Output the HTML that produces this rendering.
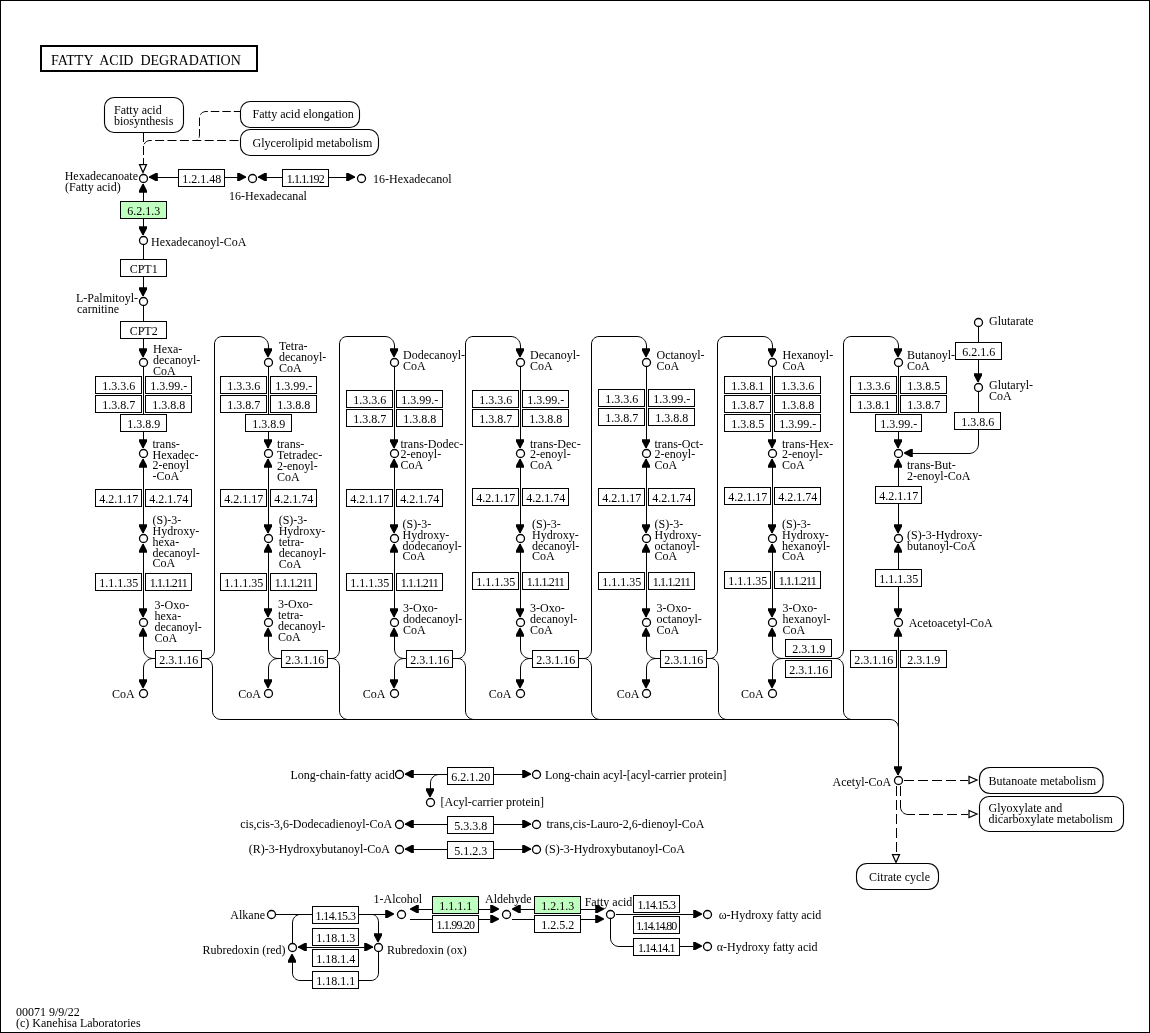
<!DOCTYPE html>
<html lang="en">
<head>
<meta charset="utf-8">
<title>Fatty acid degradation</title>
<style>
html,body{margin:0;padding:0;background:#fff;}
body{width:1150px;height:1033px;overflow:hidden;}
svg{display:block;will-change:transform;}
svg text{font-family:"Liberation Serif","DejaVu Serif",serif;font-size:12px;fill:#000;}
#g rect,#g path,#g circle,#g polygon{stroke:#000;stroke-width:1;}
#g path{fill:none;}
#g circle.c{fill:#fff;stroke-width:1.3;shape-rendering:geometricPrecision;}
#g polygon.a{fill:#000;stroke:none;shape-rendering:geometricPrecision;}
#g rect.r{fill:#fff;stroke-width:1.1;shape-rendering:geometricPrecision;}
#g rect.g{fill:#fff;stroke:none;}
#g polygon.oa{fill:#fff;stroke-width:1.25;shape-rendering:geometricPrecision;}
#g .d{stroke-dasharray:9 3.5;}
#g .d3{stroke-dasharray:8.5 3;stroke-dashoffset:2.3;}
#g .d4{stroke-dasharray:9 3.4;stroke-dashoffset:-1.5;}
#g .d2{stroke-dasharray:10 4;}
</style>
</head>
<body>
<svg width="1150" height="1033" viewBox="0 0 1150 1033">
<rect x="0" y="0" width="1150" height="1033" fill="#fff"/>
<g id="g" shape-rendering="crispEdges">
<path class="d" d="M143.5,133 V165"/>
<path class="d3" style="shape-rendering:geometricPrecision" d="M240,111.5 H206 C202.41,111.50 199.50,114.41 199.5,118 V135 C199.50,138.04 197.93,140.50 196,140.5"/>
<path class="d4" style="shape-rendering:geometricPrecision" d="M240,140.5 H150 C146.41,140.50 143.50,143.41 143.5,147 V150"/>
<path d="M147,177.5 H178"/>
<path d="M225,177.5 H248"/>
<path d="M256,177.5 H282"/>
<path d="M329,177.5 H357"/>
<path d="M143.5,182 V236"/>
<path d="M143.5,245 V297"/>
<path d="M143.5,306 V357"/>
<path d="M143.5,367 V449"/>
<path d="M143.5,458 V534"/>
<path d="M143.5,543 V618"/>
<path style="shape-rendering:geometricPrecision" d="M143.5,636 V649 C143.50,654.25 147.75,658.50 153,658.5 H155"/>
<path style="shape-rendering:geometricPrecision" d="M155,658.5 H153 C147.75,658.50 143.50,662.75 143.5,668 V680"/>
<path style="shape-rendering:geometricPrecision" d="M202,658.5 H207 C211.14,658.50 214.50,654.69 214.5,650 V344 C214.50,339.86 217.86,336.50 222,336.5 H259 C264.25,336.50 268.50,340.75 268.5,346 V350"/>
<path style="shape-rendering:geometricPrecision" d="M202,658.5 H205 C209.14,658.50 212.50,662.31 212.5,667 V711 C212.50,715.69 216.31,719.50 221,719.5"/>
<path d="M268.5,367 V449"/>
<path d="M268.5,458 V534"/>
<path d="M268.5,543 V618"/>
<path style="shape-rendering:geometricPrecision" d="M268.5,636 V649 C268.50,654.25 272.75,658.50 278,658.5 H281"/>
<path style="shape-rendering:geometricPrecision" d="M281,658.5 H278 C272.75,658.50 268.50,662.75 268.5,668 V680"/>
<path style="shape-rendering:geometricPrecision" d="M328,658.5 H332 C336.14,658.50 339.50,654.69 339.5,650 V344 C339.50,339.86 342.86,336.50 347,336.5 H385 C390.25,336.50 394.50,340.75 394.5,346 V350"/>
<path style="shape-rendering:geometricPrecision" d="M328,658.5 H332 C336.14,658.50 339.50,662.31 339.5,667 V711 C339.50,715.69 343.31,719.50 348,719.5"/>
<path d="M394.5,367 V449"/>
<path d="M394.5,458 V534"/>
<path d="M394.5,543 V618"/>
<path style="shape-rendering:geometricPrecision" d="M394.5,636 V649 C394.50,654.25 398.75,658.50 404,658.5 H406"/>
<path style="shape-rendering:geometricPrecision" d="M406,658.5 H404 C398.75,658.50 394.50,662.75 394.5,668 V680"/>
<path style="shape-rendering:geometricPrecision" d="M453,658.5 H458 C462.14,658.50 465.50,654.69 465.5,650 V344 C465.50,339.86 468.86,336.50 473,336.5 H511 C516.25,336.50 520.50,340.75 520.5,346 V350"/>
<path style="shape-rendering:geometricPrecision" d="M453,658.5 H458 C462.14,658.50 465.50,662.31 465.5,667 V711 C465.50,715.69 469.31,719.50 474,719.5"/>
<path d="M520.5,367 V449"/>
<path d="M520.5,458 V534"/>
<path d="M520.5,543 V618"/>
<path style="shape-rendering:geometricPrecision" d="M520.5,636 V649 C520.50,654.25 524.75,658.50 530,658.5 H532"/>
<path style="shape-rendering:geometricPrecision" d="M532,658.5 H530 C524.75,658.50 520.50,662.75 520.5,668 V680"/>
<path style="shape-rendering:geometricPrecision" d="M579,658.5 H584 C588.14,658.50 591.50,654.69 591.5,650 V344 C591.50,339.86 594.86,336.50 599,336.5 H637 C642.25,336.50 646.50,340.75 646.5,346 V350"/>
<path style="shape-rendering:geometricPrecision" d="M579,658.5 H584 C588.14,658.50 591.50,662.31 591.5,667 V711 C591.50,715.69 595.31,719.50 600,719.5"/>
<path d="M646.5,367 V449"/>
<path d="M646.5,458 V534"/>
<path d="M646.5,543 V618"/>
<path style="shape-rendering:geometricPrecision" d="M646.5,636 V649 C646.50,654.25 650.75,658.50 656,658.5 H660"/>
<path style="shape-rendering:geometricPrecision" d="M660,658.5 H656 C650.75,658.50 646.50,662.75 646.5,668 V680"/>
<path style="shape-rendering:geometricPrecision" d="M707,658.5 H710 C714.14,658.50 717.50,654.69 717.5,650 V344 C717.50,339.86 720.86,336.50 725,336.5 H763 C768.25,336.50 772.50,340.75 772.5,346 V350"/>
<path style="shape-rendering:geometricPrecision" d="M707,658.5 H711 C715.14,658.50 718.50,662.31 718.5,667 V711 C718.50,715.69 722.31,719.50 727,719.5"/>
<path d="M772.5,367 V449"/>
<path d="M772.5,458 V534"/>
<path d="M772.5,543 V618"/>
<path style="shape-rendering:geometricPrecision" d="M772.5,636 V649 C772.50,654.25 776.75,658.50 782,658.5 H837"/>
<path style="shape-rendering:geometricPrecision" d="M782,658.5 C776.75,658.50 772.50,662.75 772.5,668 V680"/>
<path style="shape-rendering:geometricPrecision" d="M837,658.5 H836 C840.14,658.50 843.50,654.69 843.5,650 V344 C843.50,339.86 846.86,336.50 851,336.5 H889 C894.25,336.50 898.50,340.75 898.5,346 V350"/>
<path style="shape-rendering:geometricPrecision" d="M837,658.5 H836 C840.14,658.50 843.50,662.31 843.5,667 V711 C843.50,715.69 847.31,719.50 852,719.5"/>
<path style="shape-rendering:geometricPrecision" d="M221,719.5 H890 C894.69,719.50 898.50,723.31 898.5,728"/>
<path d="M898.5,367 V449"/>
<path d="M898.5,458 V534"/>
<path d="M898.5,543 V618"/>
<path d="M898.5,627 V776"/>
<path d="M978.5,327 V383"/>
<path style="shape-rendering:geometricPrecision" d="M978.5,392 V444 C978.50,449.25 974.25,453.50 969,453.5 H905"/>
<path class="d2" d="M904,780.5 H968"/>
<path class="d2" d="M896.5,786 V854"/>
<path d="M900.5,786 V796"/>
<path style="shape-rendering:geometricPrecision" d="M900.5,800 V807 C900.50,811.14 903.86,814.50 908,814.5 H915"/>
<path class="d2" d="M919,814.5 H968"/>
<path d="M404,774.5 H447"/>
<path d="M494,774.5 H531"/>
<path d="M404,824.5 H447"/>
<path d="M494,824.5 H531"/>
<path d="M404,849.5 H447"/>
<path d="M494,849.5 H531"/>
<path style="shape-rendering:geometricPrecision" d="M447,774.5 H439 C434.31,774.50 430.50,778.31 430.5,783 V790"/>
<path d="M276,914.5 H312"/>
<path d="M359,914.5 H388"/>
<path style="shape-rendering:geometricPrecision" d="M300,914.5 C295.86,914.50 292.50,918.31 292.5,923 V943"/>
<path style="shape-rendering:geometricPrecision" d="M359,914.5 H372 C375.59,914.50 378.50,917.86 378.5,922 V935"/>
<path d="M298,947.5 H373"/>
<path style="shape-rendering:geometricPrecision" d="M378.5,952 V973 C378.50,977.14 375.14,980.50 371,980.5 H359"/>
<path style="shape-rendering:geometricPrecision" d="M312,980.5 H300 C295.86,980.50 292.50,977.14 292.5,973 V960"/>
<path d="M411,909.5 H432"/>
<path d="M479,909.5 H490"/>
<path d="M410,919.5 H432"/>
<path d="M479,919.5 H490"/>
<path d="M513,909.5 H534"/>
<path d="M581,909.5 H596"/>
<path d="M512,919.5 H534"/>
<path d="M581,919.5 H596"/>
<path d="M616,914.5 H693"/>
<path style="shape-rendering:geometricPrecision" d="M610.5,919 V938 C610.50,942.69 614.31,946.50 619,946.5 H633"/>
<path d="M680,946.5 H693"/>
<polygon class="oa" points="143,172.5 139.5,164.5 146.5,164.5"/>
<rect class="g" x="147.5" y="177" width="1.5" height="1"/>
<polygon class="a" points="149,176.4 149,177.6 155.6,181 157.8,181 157.8,173 155.6,173"/>
<rect class="g" x="246" y="177" width="1.5" height="1"/>
<polygon class="a" points="246,176.4 246,177.6 239.4,181 237.2,181 237.2,173 239.4,173"/>
<rect class="g" x="256.5" y="177" width="1.5" height="1"/>
<polygon class="a" points="258,176.4 258,177.6 264.6,181 266.8,181 266.8,173 264.6,173"/>
<rect class="g" x="355" y="177" width="1.5" height="1"/>
<polygon class="a" points="355,176.4 355,177.6 348.4,181 346.2,181 346.2,173 348.4,173"/>
<rect class="g" x="143" y="182.5" width="1" height="1.5"/>
<polygon class="a" points="142.4,184 143.6,184 147,190.6 147,192.8 139,192.8 139,190.6"/>
<rect class="g" x="143" y="235" width="1" height="1.5"/>
<polygon class="a" points="142.4,235 143.6,235 147,228.4 147,226.2 139,226.2 139,228.4"/>
<rect class="g" x="143" y="296" width="1" height="1.5"/>
<polygon class="a" points="142.4,296 143.6,296 147,289.4 147,287.2 139,287.2 139,289.4"/>
<rect class="g" x="143" y="357" width="1" height="1.5"/>
<polygon class="a" points="142.4,357 143.6,357 147,350.4 147,348.2 139,348.2 139,350.4"/>
<rect class="g" x="143" y="448" width="1" height="1.5"/>
<polygon class="a" points="142.4,448 143.6,448 147,441.4 147,439.2 139,439.2 139,441.4"/>
<rect class="g" x="143" y="457.5" width="1" height="1.5"/>
<polygon class="a" points="142.4,459 143.6,459 147,465.6 147,467.8 139,467.8 139,465.6"/>
<rect class="g" x="143" y="533" width="1" height="1.5"/>
<polygon class="a" points="142.4,533 143.6,533 147,526.4 147,524.2 139,524.2 139,526.4"/>
<rect class="g" x="143" y="542.5" width="1" height="1.5"/>
<polygon class="a" points="142.4,544 143.6,544 147,550.6 147,552.8 139,552.8 139,550.6"/>
<rect class="g" x="143" y="617" width="1" height="1.5"/>
<polygon class="a" points="142.4,617 143.6,617 147,610.4 147,608.2 139,608.2 139,610.4"/>
<rect class="g" x="143" y="626.5" width="1" height="1.5"/>
<polygon class="a" points="142.4,628 143.6,628 147,634.6 147,636.8 139,636.8 139,634.6"/>
<rect class="g" x="143" y="688" width="1" height="1.5"/>
<polygon class="a" points="142.4,688 143.6,688 147,681.4 147,679.2 139,679.2 139,681.4"/>
<rect class="g" x="268" y="357" width="1" height="1.5"/>
<polygon class="a" points="267.4,357 268.6,357 272,350.4 272,348.2 264,348.2 264,350.4"/>
<rect class="g" x="268" y="448" width="1" height="1.5"/>
<polygon class="a" points="267.4,448 268.6,448 272,441.4 272,439.2 264,439.2 264,441.4"/>
<rect class="g" x="268" y="457.5" width="1" height="1.5"/>
<polygon class="a" points="267.4,459 268.6,459 272,465.6 272,467.8 264,467.8 264,465.6"/>
<rect class="g" x="268" y="533" width="1" height="1.5"/>
<polygon class="a" points="267.4,533 268.6,533 272,526.4 272,524.2 264,524.2 264,526.4"/>
<rect class="g" x="268" y="542.5" width="1" height="1.5"/>
<polygon class="a" points="267.4,544 268.6,544 272,550.6 272,552.8 264,552.8 264,550.6"/>
<rect class="g" x="268" y="617" width="1" height="1.5"/>
<polygon class="a" points="267.4,617 268.6,617 272,610.4 272,608.2 264,608.2 264,610.4"/>
<rect class="g" x="268" y="626.5" width="1" height="1.5"/>
<polygon class="a" points="267.4,628 268.6,628 272,634.6 272,636.8 264,636.8 264,634.6"/>
<rect class="g" x="268" y="688" width="1" height="1.5"/>
<polygon class="a" points="267.4,688 268.6,688 272,681.4 272,679.2 264,679.2 264,681.4"/>
<rect class="g" x="394" y="357" width="1" height="1.5"/>
<polygon class="a" points="393.4,357 394.6,357 398,350.4 398,348.2 390,348.2 390,350.4"/>
<rect class="g" x="394" y="448" width="1" height="1.5"/>
<polygon class="a" points="393.4,448 394.6,448 398,441.4 398,439.2 390,439.2 390,441.4"/>
<rect class="g" x="394" y="457.5" width="1" height="1.5"/>
<polygon class="a" points="393.4,459 394.6,459 398,465.6 398,467.8 390,467.8 390,465.6"/>
<rect class="g" x="394" y="533" width="1" height="1.5"/>
<polygon class="a" points="393.4,533 394.6,533 398,526.4 398,524.2 390,524.2 390,526.4"/>
<rect class="g" x="394" y="542.5" width="1" height="1.5"/>
<polygon class="a" points="393.4,544 394.6,544 398,550.6 398,552.8 390,552.8 390,550.6"/>
<rect class="g" x="394" y="617" width="1" height="1.5"/>
<polygon class="a" points="393.4,617 394.6,617 398,610.4 398,608.2 390,608.2 390,610.4"/>
<rect class="g" x="394" y="626.5" width="1" height="1.5"/>
<polygon class="a" points="393.4,628 394.6,628 398,634.6 398,636.8 390,636.8 390,634.6"/>
<rect class="g" x="394" y="688" width="1" height="1.5"/>
<polygon class="a" points="393.4,688 394.6,688 398,681.4 398,679.2 390,679.2 390,681.4"/>
<rect class="g" x="520" y="357" width="1" height="1.5"/>
<polygon class="a" points="519.4,357 520.6,357 524,350.4 524,348.2 516,348.2 516,350.4"/>
<rect class="g" x="520" y="448" width="1" height="1.5"/>
<polygon class="a" points="519.4,448 520.6,448 524,441.4 524,439.2 516,439.2 516,441.4"/>
<rect class="g" x="520" y="457.5" width="1" height="1.5"/>
<polygon class="a" points="519.4,459 520.6,459 524,465.6 524,467.8 516,467.8 516,465.6"/>
<rect class="g" x="520" y="533" width="1" height="1.5"/>
<polygon class="a" points="519.4,533 520.6,533 524,526.4 524,524.2 516,524.2 516,526.4"/>
<rect class="g" x="520" y="542.5" width="1" height="1.5"/>
<polygon class="a" points="519.4,544 520.6,544 524,550.6 524,552.8 516,552.8 516,550.6"/>
<rect class="g" x="520" y="617" width="1" height="1.5"/>
<polygon class="a" points="519.4,617 520.6,617 524,610.4 524,608.2 516,608.2 516,610.4"/>
<rect class="g" x="520" y="626.5" width="1" height="1.5"/>
<polygon class="a" points="519.4,628 520.6,628 524,634.6 524,636.8 516,636.8 516,634.6"/>
<rect class="g" x="520" y="688" width="1" height="1.5"/>
<polygon class="a" points="519.4,688 520.6,688 524,681.4 524,679.2 516,679.2 516,681.4"/>
<rect class="g" x="646" y="357" width="1" height="1.5"/>
<polygon class="a" points="645.4,357 646.6,357 650,350.4 650,348.2 642,348.2 642,350.4"/>
<rect class="g" x="646" y="448" width="1" height="1.5"/>
<polygon class="a" points="645.4,448 646.6,448 650,441.4 650,439.2 642,439.2 642,441.4"/>
<rect class="g" x="646" y="457.5" width="1" height="1.5"/>
<polygon class="a" points="645.4,459 646.6,459 650,465.6 650,467.8 642,467.8 642,465.6"/>
<rect class="g" x="646" y="533" width="1" height="1.5"/>
<polygon class="a" points="645.4,533 646.6,533 650,526.4 650,524.2 642,524.2 642,526.4"/>
<rect class="g" x="646" y="542.5" width="1" height="1.5"/>
<polygon class="a" points="645.4,544 646.6,544 650,550.6 650,552.8 642,552.8 642,550.6"/>
<rect class="g" x="646" y="617" width="1" height="1.5"/>
<polygon class="a" points="645.4,617 646.6,617 650,610.4 650,608.2 642,608.2 642,610.4"/>
<rect class="g" x="646" y="626.5" width="1" height="1.5"/>
<polygon class="a" points="645.4,628 646.6,628 650,634.6 650,636.8 642,636.8 642,634.6"/>
<rect class="g" x="646" y="688" width="1" height="1.5"/>
<polygon class="a" points="645.4,688 646.6,688 650,681.4 650,679.2 642,679.2 642,681.4"/>
<rect class="g" x="772" y="357" width="1" height="1.5"/>
<polygon class="a" points="771.4,357 772.6,357 776,350.4 776,348.2 768,348.2 768,350.4"/>
<rect class="g" x="772" y="448" width="1" height="1.5"/>
<polygon class="a" points="771.4,448 772.6,448 776,441.4 776,439.2 768,439.2 768,441.4"/>
<rect class="g" x="772" y="457.5" width="1" height="1.5"/>
<polygon class="a" points="771.4,459 772.6,459 776,465.6 776,467.8 768,467.8 768,465.6"/>
<rect class="g" x="772" y="533" width="1" height="1.5"/>
<polygon class="a" points="771.4,533 772.6,533 776,526.4 776,524.2 768,524.2 768,526.4"/>
<rect class="g" x="772" y="542.5" width="1" height="1.5"/>
<polygon class="a" points="771.4,544 772.6,544 776,550.6 776,552.8 768,552.8 768,550.6"/>
<rect class="g" x="772" y="617" width="1" height="1.5"/>
<polygon class="a" points="771.4,617 772.6,617 776,610.4 776,608.2 768,608.2 768,610.4"/>
<rect class="g" x="772" y="626.5" width="1" height="1.5"/>
<polygon class="a" points="771.4,628 772.6,628 776,634.6 776,636.8 768,636.8 768,634.6"/>
<rect class="g" x="772" y="688" width="1" height="1.5"/>
<polygon class="a" points="771.4,688 772.6,688 776,681.4 776,679.2 768,679.2 768,681.4"/>
<rect class="g" x="898" y="357" width="1" height="1.5"/>
<polygon class="a" points="897.4,357 898.6,357 902,350.4 902,348.2 894,348.2 894,350.4"/>
<rect class="g" x="898" y="448" width="1" height="1.5"/>
<polygon class="a" points="897.4,448 898.6,448 902,441.4 902,439.2 894,439.2 894,441.4"/>
<rect class="g" x="898" y="457.5" width="1" height="1.5"/>
<polygon class="a" points="897.4,459 898.6,459 902,465.6 902,467.8 894,467.8 894,465.6"/>
<rect class="g" x="898" y="533" width="1" height="1.5"/>
<polygon class="a" points="897.4,533 898.6,533 902,526.4 902,524.2 894,524.2 894,526.4"/>
<rect class="g" x="898" y="542.5" width="1" height="1.5"/>
<polygon class="a" points="897.4,544 898.6,544 902,550.6 902,552.8 894,552.8 894,550.6"/>
<rect class="g" x="898" y="617" width="1" height="1.5"/>
<polygon class="a" points="897.4,617 898.6,617 902,610.4 902,608.2 894,608.2 894,610.4"/>
<rect class="g" x="898" y="626.5" width="1" height="1.5"/>
<polygon class="a" points="897.4,628 898.6,628 902,634.6 902,636.8 894,636.8 894,634.6"/>
<rect class="g" x="898" y="775" width="1" height="1.5"/>
<polygon class="a" points="897.4,775 898.6,775 902,768.4 902,766.2 894,766.2 894,768.4"/>
<rect class="g" x="978" y="382" width="1" height="1.5"/>
<polygon class="a" points="977.4,382 978.6,382 982,375.4 982,373.2 974,373.2 974,375.4"/>
<rect class="g" x="902.5" y="453" width="1.5" height="1"/>
<polygon class="a" points="904,452.4 904,453.6 910.6,457 912.8,457 912.8,449 910.6,449"/>
<polygon class="oa" points="977,780 969,776.5 969,783.5"/>
<polygon class="oa" points="896,862.5 892.5,854.5 899.5,854.5"/>
<polygon class="oa" points="977,814 969,810.5 969,817.5"/>
<rect class="g" x="403.5" y="774" width="1.5" height="1"/>
<polygon class="a" points="405,773.4 405,774.6 411.6,778 413.8,778 413.8,770 411.6,770"/>
<rect class="g" x="531" y="774" width="1.5" height="1"/>
<polygon class="a" points="531,773.4 531,774.6 524.4,778 522.2,778 522.2,770 524.4,770"/>
<rect class="g" x="403.5" y="824" width="1.5" height="1"/>
<polygon class="a" points="405,823.4 405,824.6 411.6,828 413.8,828 413.8,820 411.6,820"/>
<rect class="g" x="531" y="824" width="1.5" height="1"/>
<polygon class="a" points="531,823.4 531,824.6 524.4,828 522.2,828 522.2,820 524.4,820"/>
<rect class="g" x="403.5" y="849" width="1.5" height="1"/>
<polygon class="a" points="405,848.4 405,849.6 411.6,853 413.8,853 413.8,845 411.6,845"/>
<rect class="g" x="531" y="849" width="1.5" height="1"/>
<polygon class="a" points="531,848.4 531,849.6 524.4,853 522.2,853 522.2,845 524.4,845"/>
<rect class="g" x="430" y="797" width="1" height="1.5"/>
<polygon class="a" points="429.4,797 430.6,797 434,790.4 434,788.2 426,788.2 426,790.4"/>
<rect class="g" x="394" y="914" width="1.5" height="1"/>
<polygon class="a" points="394,913.4 394,914.6 387.4,918 385.2,918 385.2,910 387.4,910"/>
<rect class="g" x="378" y="942" width="1" height="1.5"/>
<polygon class="a" points="377.4,942 378.6,942 382,935.4 382,933.2 374,933.2 374,935.4"/>
<rect class="g" x="296.5" y="947" width="1.5" height="1"/>
<polygon class="a" points="298,946.4 298,947.6 304.6,951 306.8,951 306.8,943 304.6,943"/>
<rect class="g" x="373" y="947" width="1.5" height="1"/>
<polygon class="a" points="373,946.4 373,947.6 366.4,951 364.2,951 364.2,943 366.4,943"/>
<rect class="g" x="292" y="952.5" width="1" height="1.5"/>
<polygon class="a" points="291.4,954 292.6,954 296,960.6 296,962.8 288,962.8 288,960.6"/>
<rect class="g" x="408.5" y="909" width="1.5" height="1"/>
<polygon class="a" points="410,908.4 410,909.6 416.6,913 418.8,913 418.8,905 416.6,905"/>
<rect class="g" x="499" y="909" width="1.5" height="1"/>
<polygon class="a" points="499,908.4 499,909.6 492.4,913 490.2,913 490.2,905 492.4,905"/>
<rect class="g" x="499" y="919" width="1.5" height="1"/>
<polygon class="a" points="499,918.4 499,919.6 492.4,923 490.2,923 490.2,915 492.4,915"/>
<rect class="g" x="510.5" y="909" width="1.5" height="1"/>
<polygon class="a" points="512,908.4 512,909.6 518.6,913 520.8,913 520.8,905 518.6,905"/>
<rect class="g" x="604" y="909" width="1.5" height="1"/>
<polygon class="a" points="604,908.4 604,909.6 597.4,913 595.2,913 595.2,905 597.4,905"/>
<rect class="g" x="604" y="919" width="1.5" height="1"/>
<polygon class="a" points="604,918.4 604,919.6 597.4,923 595.2,923 595.2,915 597.4,915"/>
<rect class="g" x="702" y="914" width="1.5" height="1"/>
<polygon class="a" points="702,913.4 702,914.6 695.4,918 693.2,918 693.2,910 695.4,910"/>
<rect class="g" x="702" y="946" width="1.5" height="1"/>
<polygon class="a" points="702,945.4 702,946.6 695.4,950 693.2,950 693.2,942 695.4,942"/>
<rect x="0.5" y="0.5" width="1149" height="1032" fill="none"/>
<rect x="41" y="46" width="216" height="25" fill="#fff" style="stroke-width:2"/>
<rect class="r" x="104.5" y="97.5" width="79" height="35" rx="9.5" ry="9.5"/>
<rect class="r" x="240.5" y="101.5" width="119" height="26" rx="9.5" ry="9.5"/>
<rect class="r" x="240.5" y="129.5" width="138" height="26" rx="9.5" ry="9.5"/>
<rect x="178.5" y="169.5" width="46" height="17" fill="#fff"/>
<rect x="282.5" y="169.5" width="46" height="17" fill="#fff"/>
<rect x="120.5" y="201.5" width="46" height="17" fill="#bfffbf"/>
<rect x="120.5" y="259.5" width="46" height="17" fill="#fff"/>
<rect x="120.5" y="321.5" width="46" height="17" fill="#fff"/>
<rect x="95.5" y="376.5" width="46" height="17" fill="#fff"/>
<rect x="145.5" y="376.5" width="46" height="17" fill="#fff"/>
<rect x="95.5" y="395.5" width="46" height="17" fill="#fff"/>
<rect x="145.5" y="395.5" width="46" height="17" fill="#fff"/>
<rect x="120.5" y="414.5" width="46" height="17" fill="#fff"/>
<rect x="95.5" y="489.5" width="46" height="17" fill="#fff"/>
<rect x="145.5" y="489.5" width="46" height="17" fill="#fff"/>
<rect x="95.5" y="573.5" width="46" height="17" fill="#fff"/>
<rect x="145.5" y="573.5" width="46" height="17" fill="#fff"/>
<rect x="155.5" y="650.5" width="46" height="17" fill="#fff"/>
<rect x="220.5" y="376.5" width="46" height="17" fill="#fff"/>
<rect x="270.5" y="376.5" width="46" height="17" fill="#fff"/>
<rect x="220.5" y="395.5" width="46" height="17" fill="#fff"/>
<rect x="270.5" y="395.5" width="46" height="17" fill="#fff"/>
<rect x="245.5" y="414.5" width="46" height="17" fill="#fff"/>
<rect x="220.5" y="489.5" width="46" height="17" fill="#fff"/>
<rect x="270.5" y="489.5" width="46" height="17" fill="#fff"/>
<rect x="220.5" y="573.5" width="46" height="17" fill="#fff"/>
<rect x="270.5" y="573.5" width="46" height="17" fill="#fff"/>
<rect x="281.5" y="650.5" width="46" height="17" fill="#fff"/>
<rect x="346.5" y="390.5" width="46" height="17" fill="#fff"/>
<rect x="396.5" y="390.5" width="46" height="17" fill="#fff"/>
<rect x="346.5" y="409.5" width="46" height="17" fill="#fff"/>
<rect x="396.5" y="409.5" width="46" height="17" fill="#fff"/>
<rect x="346.5" y="489.5" width="46" height="17" fill="#fff"/>
<rect x="396.5" y="489.5" width="46" height="17" fill="#fff"/>
<rect x="346.5" y="573.5" width="46" height="17" fill="#fff"/>
<rect x="396.5" y="573.5" width="46" height="17" fill="#fff"/>
<rect x="406.5" y="650.5" width="46" height="17" fill="#fff"/>
<rect x="472.5" y="390.5" width="46" height="17" fill="#fff"/>
<rect x="522.5" y="390.5" width="46" height="17" fill="#fff"/>
<rect x="472.5" y="409.5" width="46" height="17" fill="#fff"/>
<rect x="522.5" y="409.5" width="46" height="17" fill="#fff"/>
<rect x="472.5" y="488.5" width="46" height="17" fill="#fff"/>
<rect x="522.5" y="488.5" width="46" height="17" fill="#fff"/>
<rect x="472.5" y="572.5" width="46" height="17" fill="#fff"/>
<rect x="522.5" y="572.5" width="46" height="17" fill="#fff"/>
<rect x="532.5" y="650.5" width="46" height="17" fill="#fff"/>
<rect x="598.5" y="389.5" width="46" height="17" fill="#fff"/>
<rect x="648.5" y="389.5" width="46" height="17" fill="#fff"/>
<rect x="598.5" y="408.5" width="46" height="17" fill="#fff"/>
<rect x="648.5" y="408.5" width="46" height="17" fill="#fff"/>
<rect x="598.5" y="488.5" width="46" height="17" fill="#fff"/>
<rect x="648.5" y="488.5" width="46" height="17" fill="#fff"/>
<rect x="598.5" y="572.5" width="46" height="17" fill="#fff"/>
<rect x="648.5" y="572.5" width="46" height="17" fill="#fff"/>
<rect x="660.5" y="650.5" width="46" height="17" fill="#fff"/>
<rect x="724.5" y="376.5" width="46" height="17" fill="#fff"/>
<rect x="774.5" y="376.5" width="46" height="17" fill="#fff"/>
<rect x="724.5" y="395.5" width="46" height="17" fill="#fff"/>
<rect x="774.5" y="395.5" width="46" height="17" fill="#fff"/>
<rect x="724.5" y="414.5" width="46" height="17" fill="#fff"/>
<rect x="774.5" y="414.5" width="46" height="17" fill="#fff"/>
<rect x="724.5" y="487.5" width="46" height="17" fill="#fff"/>
<rect x="774.5" y="487.5" width="46" height="17" fill="#fff"/>
<rect x="724.5" y="571.5" width="46" height="17" fill="#fff"/>
<rect x="774.5" y="571.5" width="46" height="17" fill="#fff"/>
<rect x="785.5" y="639.5" width="46" height="17" fill="#fff"/>
<rect x="785.5" y="660.5" width="46" height="17" fill="#fff"/>
<rect x="850.5" y="376.5" width="46" height="17" fill="#fff"/>
<rect x="900.5" y="376.5" width="46" height="17" fill="#fff"/>
<rect x="850.5" y="395.5" width="46" height="17" fill="#fff"/>
<rect x="900.5" y="395.5" width="46" height="17" fill="#fff"/>
<rect x="875.5" y="414.5" width="46" height="17" fill="#fff"/>
<rect x="875.5" y="486.5" width="46" height="17" fill="#fff"/>
<rect x="875.5" y="569.5" width="46" height="17" fill="#fff"/>
<rect x="850.5" y="650.5" width="46" height="17" fill="#fff"/>
<rect x="900.5" y="650.5" width="46" height="17" fill="#fff"/>
<rect x="955.5" y="342.5" width="46" height="17" fill="#fff"/>
<rect x="954.5" y="412.5" width="46" height="17" fill="#fff"/>
<rect class="r" x="979.5" y="767.5" width="123.6" height="26" rx="10.5" ry="10.5"/>
<rect class="r" x="979.5" y="796.5" width="144" height="35" rx="9.5" ry="9.5"/>
<rect class="r" x="856.5" y="863.5" width="82" height="26" rx="10.5" ry="10.5"/>
<rect x="447.5" y="767.5" width="46" height="17" fill="#fff"/>
<rect x="447.5" y="816.5" width="46" height="17" fill="#fff"/>
<rect x="447.5" y="841.5" width="46" height="17" fill="#fff"/>
<rect x="312.5" y="906.5" width="46" height="17" fill="#fff"/>
<rect x="312.5" y="928.5" width="46" height="17" fill="#fff"/>
<rect x="312.5" y="949.5" width="46" height="17" fill="#fff"/>
<rect x="312.5" y="971.5" width="46" height="17" fill="#fff"/>
<rect x="432.5" y="896.5" width="46" height="17" fill="#bfffbf"/>
<rect x="432.5" y="915.5" width="46" height="17" fill="#fff"/>
<rect x="534.5" y="896.5" width="46" height="17" fill="#bfffbf"/>
<rect x="534.5" y="915.5" width="46" height="17" fill="#fff"/>
<rect x="633.5" y="895.5" width="46" height="17" fill="#fff"/>
<rect x="633.5" y="916.5" width="46" height="17" fill="#fff"/>
<rect x="633.5" y="938.5" width="46" height="17" fill="#fff"/>
<circle class="c" cx="143.5" cy="178.5" r="4"/>
<circle class="c" cx="252.5" cy="178.5" r="4"/>
<circle class="c" cx="361.5" cy="178.5" r="4"/>
<circle class="c" cx="143.5" cy="240.5" r="4"/>
<circle class="c" cx="143.5" cy="301.5" r="4"/>
<circle class="c" cx="143.5" cy="362.5" r="4"/>
<circle class="c" cx="143.5" cy="453.5" r="4"/>
<circle class="c" cx="143.5" cy="538.5" r="4"/>
<circle class="c" cx="143.5" cy="622.5" r="4"/>
<circle class="c" cx="143.5" cy="693.5" r="4"/>
<circle class="c" cx="268.5" cy="362.5" r="4"/>
<circle class="c" cx="268.5" cy="453.5" r="4"/>
<circle class="c" cx="268.5" cy="538.5" r="4"/>
<circle class="c" cx="268.5" cy="622.5" r="4"/>
<circle class="c" cx="268.5" cy="693.5" r="4"/>
<circle class="c" cx="394.5" cy="362.5" r="4"/>
<circle class="c" cx="394.5" cy="453.5" r="4"/>
<circle class="c" cx="394.5" cy="538.5" r="4"/>
<circle class="c" cx="394.5" cy="622.5" r="4"/>
<circle class="c" cx="394.5" cy="693.5" r="4"/>
<circle class="c" cx="520.5" cy="362.5" r="4"/>
<circle class="c" cx="520.5" cy="453.5" r="4"/>
<circle class="c" cx="520.5" cy="538.5" r="4"/>
<circle class="c" cx="520.5" cy="622.5" r="4"/>
<circle class="c" cx="520.5" cy="693.5" r="4"/>
<circle class="c" cx="646.5" cy="362.5" r="4"/>
<circle class="c" cx="646.5" cy="453.5" r="4"/>
<circle class="c" cx="646.5" cy="538.5" r="4"/>
<circle class="c" cx="646.5" cy="622.5" r="4"/>
<circle class="c" cx="646.5" cy="693.5" r="4"/>
<circle class="c" cx="772.5" cy="362.5" r="4"/>
<circle class="c" cx="772.5" cy="453.5" r="4"/>
<circle class="c" cx="772.5" cy="538.5" r="4"/>
<circle class="c" cx="772.5" cy="622.5" r="4"/>
<circle class="c" cx="772.5" cy="693.5" r="4"/>
<circle class="c" cx="898.5" cy="362.5" r="4"/>
<circle class="c" cx="898.5" cy="453.5" r="4"/>
<circle class="c" cx="898.5" cy="538.5" r="4"/>
<circle class="c" cx="898.5" cy="622.5" r="4"/>
<circle class="c" cx="898.5" cy="780.5" r="4"/>
<circle class="c" cx="978.5" cy="322.5" r="4"/>
<circle class="c" cx="978.5" cy="387.5" r="4"/>
<circle class="c" cx="399.5" cy="774.5" r="4"/>
<circle class="c" cx="536.5" cy="774.5" r="4"/>
<circle class="c" cx="399.5" cy="824.5" r="4"/>
<circle class="c" cx="536.5" cy="824.5" r="4"/>
<circle class="c" cx="399.5" cy="849.5" r="4"/>
<circle class="c" cx="536.5" cy="849.5" r="4"/>
<circle class="c" cx="430.5" cy="802.5" r="4"/>
<circle class="c" cx="271.5" cy="914.5" r="4"/>
<circle class="c" cx="401.5" cy="914.5" r="4"/>
<circle class="c" cx="292.5" cy="947.5" r="4"/>
<circle class="c" cx="378.5" cy="947.5" r="4"/>
<circle class="c" cx="506.5" cy="914.5" r="4"/>
<circle class="c" cx="610.5" cy="914.5" r="4"/>
<circle class="c" cx="707.5" cy="914.5" r="4"/>
<circle class="c" cx="707.5" cy="946.5" r="4"/>
</g>
<g id="t">
<text x="51" y="64.5" xml:space="preserve" style="white-space:pre;font-size:14px">FATTY  ACID  DEGRADATION</text>
<text x="114" y="114">Fatty acid</text>
<text x="114" y="125">biosynthesis</text>
<text x="252.5" y="118">Fatty acid elongation</text>
<text x="252.6" y="146.8">Glycerolipid metabolism</text>
<text x="201.7" y="182.5" text-anchor="middle">1.2.1.48</text>
<text x="305.7" y="182.5" text-anchor="middle" textLength="38" lengthAdjust="spacing">1.1.1.192</text>
<text x="373" y="182.5">16-Hexadecanol</text>
<text x="229" y="199.5">16-Hexadecanal</text>
<text x="138" y="180" text-anchor="end">Hexadecanoate</text>
<text x="65" y="191">(Fatty acid)</text>
<text x="143.7" y="214.5" text-anchor="middle">6.2.1.3</text>
<text x="151" y="246">Hexadecanoyl-CoA</text>
<text x="143.7" y="272.5" text-anchor="middle">CPT1</text>
<text x="138" y="302" text-anchor="end">L-Palmitoyl-</text>
<text x="77" y="312.5">carnitine</text>
<text x="143.7" y="334.5" text-anchor="middle">CPT2</text>
<text x="118.7" y="389.5" text-anchor="middle">1.3.3.6</text>
<text x="168.7" y="389.5" text-anchor="middle">1.3.99.-</text>
<text x="118.7" y="408.5" text-anchor="middle">1.3.8.7</text>
<text x="168.7" y="408.5" text-anchor="middle">1.3.8.8</text>
<text x="143.7" y="427.5" text-anchor="middle">1.3.8.9</text>
<text x="118.7" y="502.5" text-anchor="middle">4.2.1.17</text>
<text x="168.7" y="502.5" text-anchor="middle">4.2.1.74</text>
<text x="118.7" y="586.5" text-anchor="middle">1.1.1.35</text>
<text x="168.7" y="586.5" text-anchor="middle" textLength="38" lengthAdjust="spacing">1.1.1.211</text>
<text x="178.7" y="663.5" text-anchor="middle">2.3.1.16</text>
<text x="153" y="353.3">Hexa-</text>
<text x="153" y="364.1">decanoyl-</text>
<text x="153" y="374.90000000000003">CoA</text>
<text x="152.5" y="447.7">trans-</text>
<text x="152.5" y="458.5">Hexadec-</text>
<text x="152.5" y="469.3">2-enoyl</text>
<text x="152.5" y="480.1">-CoA</text>
<text x="152.5" y="524.2">(S)-3-</text>
<text x="152.5" y="535.0">Hydroxy-</text>
<text x="152.5" y="545.8000000000001">hexa-</text>
<text x="152.5" y="556.6">decanoyl-</text>
<text x="152.5" y="567.4000000000001">CoA</text>
<text x="154.5" y="608.5">3-Oxo-</text>
<text x="154.5" y="619.5">hexa-</text>
<text x="154.5" y="630.5">decanoyl-</text>
<text x="154.5" y="641.5">CoA</text>
<text x="134.7" y="697.5" text-anchor="end">CoA</text>
<text x="243.7" y="389.5" text-anchor="middle">1.3.3.6</text>
<text x="293.7" y="389.5" text-anchor="middle">1.3.99.-</text>
<text x="243.7" y="408.5" text-anchor="middle">1.3.8.7</text>
<text x="293.7" y="408.5" text-anchor="middle">1.3.8.8</text>
<text x="268.7" y="427.5" text-anchor="middle">1.3.8.9</text>
<text x="243.7" y="502.5" text-anchor="middle">4.2.1.17</text>
<text x="293.7" y="502.5" text-anchor="middle">4.2.1.74</text>
<text x="243.7" y="586.5" text-anchor="middle">1.1.1.35</text>
<text x="293.7" y="586.5" text-anchor="middle" textLength="38" lengthAdjust="spacing">1.1.1.211</text>
<text x="304.7" y="663.5" text-anchor="middle">2.3.1.16</text>
<text x="279" y="350.3">Tetra-</text>
<text x="279" y="361.1">decanoyl-</text>
<text x="279" y="371.90000000000003">CoA</text>
<text x="277" y="448.2">trans-</text>
<text x="277" y="459.0">Tetradec-</text>
<text x="277" y="469.8">2-enoyl-</text>
<text x="277" y="480.6">CoA</text>
<text x="278.7" y="524.3">(S)-3-</text>
<text x="278.7" y="535.0999999999999">Hydroxy-</text>
<text x="278.7" y="545.9">tetra-</text>
<text x="278.7" y="556.6999999999999">decanoyl-</text>
<text x="278.7" y="567.5">CoA</text>
<text x="278" y="608">3-Oxo-</text>
<text x="278" y="619">tetra-</text>
<text x="278" y="630">decanoyl-</text>
<text x="278" y="641">CoA</text>
<text x="261" y="697.5" text-anchor="end">CoA</text>
<text x="369.7" y="403.5" text-anchor="middle">1.3.3.6</text>
<text x="419.7" y="403.5" text-anchor="middle">1.3.99.-</text>
<text x="369.7" y="422.5" text-anchor="middle">1.3.8.7</text>
<text x="419.7" y="422.5" text-anchor="middle">1.3.8.8</text>
<text x="369.7" y="502.5" text-anchor="middle">4.2.1.17</text>
<text x="419.7" y="502.5" text-anchor="middle">4.2.1.74</text>
<text x="369.7" y="586.5" text-anchor="middle">1.1.1.35</text>
<text x="419.7" y="586.5" text-anchor="middle" textLength="38" lengthAdjust="spacing">1.1.1.211</text>
<text x="429.7" y="663.5" text-anchor="middle">2.3.1.16</text>
<text x="403" y="358.7">Dodecanoyl-</text>
<text x="403" y="369.5">CoA</text>
<text x="400.5" y="447.5">trans-Dodec-</text>
<text x="400.5" y="458.3">2-enoyl-</text>
<text x="400.5" y="469.1">CoA</text>
<text x="402.5" y="528.0">(S)-3-</text>
<text x="402.5" y="538.8">Hydroxy-</text>
<text x="402.5" y="549.6">dodecanoyl-</text>
<text x="402.5" y="560.4">CoA</text>
<text x="403" y="611.5">3-Oxo-</text>
<text x="403" y="622.5">dodecanoyl-</text>
<text x="403" y="633.5">CoA</text>
<text x="385.5" y="697.5" text-anchor="end">CoA</text>
<text x="495.7" y="403.5" text-anchor="middle">1.3.3.6</text>
<text x="545.7" y="403.5" text-anchor="middle">1.3.99.-</text>
<text x="495.7" y="422.5" text-anchor="middle">1.3.8.7</text>
<text x="545.7" y="422.5" text-anchor="middle">1.3.8.8</text>
<text x="495.7" y="501.5" text-anchor="middle">4.2.1.17</text>
<text x="545.7" y="501.5" text-anchor="middle">4.2.1.74</text>
<text x="495.7" y="585.5" text-anchor="middle">1.1.1.35</text>
<text x="545.7" y="585.5" text-anchor="middle" textLength="38" lengthAdjust="spacing">1.1.1.211</text>
<text x="555.7" y="663.5" text-anchor="middle">2.3.1.16</text>
<text x="530" y="358.7">Decanoyl-</text>
<text x="530" y="369.5">CoA</text>
<text x="530" y="447.5">trans-Dec-</text>
<text x="530" y="458.3">2-enoyl-</text>
<text x="530" y="469.1">CoA</text>
<text x="532" y="528.0">(S)-3-</text>
<text x="532" y="538.8">Hydroxy-</text>
<text x="532" y="549.6">decanoyl-</text>
<text x="532" y="560.4">CoA</text>
<text x="530" y="611.5">3-Oxo-</text>
<text x="530" y="622.5">decanoyl-</text>
<text x="530" y="633.5">CoA</text>
<text x="511.5" y="697.5" text-anchor="end">CoA</text>
<text x="621.7" y="402.5" text-anchor="middle">1.3.3.6</text>
<text x="671.7" y="402.5" text-anchor="middle">1.3.99.-</text>
<text x="621.7" y="421.5" text-anchor="middle">1.3.8.7</text>
<text x="671.7" y="421.5" text-anchor="middle">1.3.8.8</text>
<text x="621.7" y="501.5" text-anchor="middle">4.2.1.17</text>
<text x="671.7" y="501.5" text-anchor="middle">4.2.1.74</text>
<text x="621.7" y="585.5" text-anchor="middle">1.1.1.35</text>
<text x="671.7" y="585.5" text-anchor="middle" textLength="38" lengthAdjust="spacing">1.1.1.211</text>
<text x="683.7" y="663.5" text-anchor="middle">2.3.1.16</text>
<text x="656.5" y="358.7">Octanoyl-</text>
<text x="656.5" y="369.5">CoA</text>
<text x="654.5" y="447.5">trans-Oct-</text>
<text x="654.5" y="458.3">2-enoyl-</text>
<text x="654.5" y="469.1">CoA</text>
<text x="654.5" y="528.0">(S)-3-</text>
<text x="654.5" y="538.8">Hydroxy-</text>
<text x="654.5" y="549.6">octanoyl-</text>
<text x="654.5" y="560.4">CoA</text>
<text x="656.5" y="611.5">3-Oxo-</text>
<text x="656.5" y="622.5">octanoyl-</text>
<text x="656.5" y="633.5">CoA</text>
<text x="639.5" y="697.5" text-anchor="end">CoA</text>
<text x="747.7" y="389.5" text-anchor="middle">1.3.8.1</text>
<text x="797.7" y="389.5" text-anchor="middle">1.3.3.6</text>
<text x="747.7" y="408.5" text-anchor="middle">1.3.8.7</text>
<text x="797.7" y="408.5" text-anchor="middle">1.3.8.8</text>
<text x="747.7" y="427.5" text-anchor="middle">1.3.8.5</text>
<text x="797.7" y="427.5" text-anchor="middle">1.3.99.-</text>
<text x="747.7" y="500.5" text-anchor="middle">4.2.1.17</text>
<text x="797.7" y="500.5" text-anchor="middle">4.2.1.74</text>
<text x="747.7" y="584.5" text-anchor="middle">1.1.1.35</text>
<text x="797.7" y="584.5" text-anchor="middle" textLength="38" lengthAdjust="spacing">1.1.1.211</text>
<text x="808.7" y="652.5" text-anchor="middle">2.3.1.9</text>
<text x="808.7" y="673.5" text-anchor="middle">2.3.1.16</text>
<text x="782.5" y="358.7">Hexanoyl-</text>
<text x="782.5" y="369.5">CoA</text>
<text x="782" y="447.5">trans-Hex-</text>
<text x="782" y="458.3">2-enoyl-</text>
<text x="782" y="469.1">CoA</text>
<text x="782" y="528.0">(S)-3-</text>
<text x="782" y="538.8">Hydroxy-</text>
<text x="782" y="549.6">hexanoyl-</text>
<text x="782" y="560.4">CoA</text>
<text x="782.5" y="611.5">3-Oxo-</text>
<text x="782.5" y="622.5">hexanoyl-</text>
<text x="782.5" y="633.5">CoA</text>
<text x="763.7" y="697.5" text-anchor="end">CoA</text>
<text x="873.7" y="389.5" text-anchor="middle">1.3.3.6</text>
<text x="923.7" y="389.5" text-anchor="middle">1.3.8.5</text>
<text x="873.7" y="408.5" text-anchor="middle">1.3.8.1</text>
<text x="923.7" y="408.5" text-anchor="middle">1.3.8.7</text>
<text x="898.7" y="427.5" text-anchor="middle">1.3.99.-</text>
<text x="898.7" y="499.5" text-anchor="middle">4.2.1.17</text>
<text x="898.7" y="582.5" text-anchor="middle">1.1.1.35</text>
<text x="873.7" y="663.5" text-anchor="middle">2.3.1.16</text>
<text x="923.7" y="663.5" text-anchor="middle">2.3.1.9</text>
<text x="907" y="359.0">Butanoyl-</text>
<text x="907" y="369.8">CoA</text>
<text x="907" y="468.5">trans-But-</text>
<text x="907" y="479.5">2-enoyl-CoA</text>
<text x="907" y="539">(S)-3-Hydroxy-</text>
<text x="907" y="550">butanoyl-CoA</text>
<text x="908.7" y="627">Acetoacetyl-CoA</text>
<text x="891.2" y="785.5" text-anchor="end">Acetyl-CoA</text>
<text x="978.7" y="355.5" text-anchor="middle">6.2.1.6</text>
<text x="977.7" y="425.5" text-anchor="middle">1.3.8.6</text>
<text x="989" y="324.5">Glutarate</text>
<text x="989" y="389.0">Glutaryl-</text>
<text x="989" y="399.8">CoA</text>
<text x="988.5" y="784.5">Butanoate metabolism</text>
<text x="988.5" y="812.3">Glyoxylate and</text>
<text x="988.5" y="823.3">dicarboxylate metabolism</text>
<text x="869" y="880.5">Citrate cycle</text>
<text x="470.7" y="780.5" text-anchor="middle">6.2.1.20</text>
<text x="470.7" y="829.5" text-anchor="middle">5.3.3.8</text>
<text x="470.7" y="854.5" text-anchor="middle">5.1.2.3</text>
<text x="394.7" y="779" text-anchor="end">Long-chain-fatty acid</text>
<text x="545" y="779" textLength="181.5" lengthAdjust="spacing">Long-chain acyl-[acyl-carrier protein]</text>
<text x="392.2" y="828" text-anchor="end">cis,cis-3,6-Dodecadienoyl-CoA</text>
<text x="546.5" y="828">trans,cis-Lauro-2,6-dienoyl-CoA</text>
<text x="390" y="853" text-anchor="end">(R)-3-Hydroxybutanoyl-CoA</text>
<text x="545" y="853.4">(S)-3-Hydroxybutanoyl-CoA</text>
<text x="440.5" y="806">[Acyl-carrier protein]</text>
<text x="335.7" y="919.5" text-anchor="middle" textLength="40.5" lengthAdjust="spacing">1.14.15.3</text>
<text x="335.7" y="941.5" text-anchor="middle">1.18.1.3</text>
<text x="335.7" y="962.5" text-anchor="middle">1.18.1.4</text>
<text x="335.7" y="984.5" text-anchor="middle">1.18.1.1</text>
<text x="265" y="918.5" text-anchor="end">Alkane</text>
<text x="373.5" y="902.7">1-Alcohol</text>
<text x="285.5" y="954" text-anchor="end">Rubredoxin (red)</text>
<text x="387" y="954">Rubredoxin (ox)</text>
<text x="455.7" y="909.5" text-anchor="middle">1.1.1.1</text>
<text x="455.7" y="928.5" text-anchor="middle" textLength="38.5" lengthAdjust="spacing">1.1.99.20</text>
<text x="485" y="902.7">Aldehyde</text>
<text x="557.7" y="909.5" text-anchor="middle">1.2.1.3</text>
<text x="557.7" y="928.5" text-anchor="middle">1.2.5.2</text>
<text x="584.7" y="905.6">Fatty acid</text>
<text x="656.7" y="908.5" text-anchor="middle" textLength="38.5" lengthAdjust="spacing">1.14.15.3</text>
<text x="656.7" y="929.5" text-anchor="middle" textLength="41" lengthAdjust="spacing">1.14.14.80</text>
<text x="656.7" y="951.5" text-anchor="middle" textLength="37.5" lengthAdjust="spacing">1.14.14.1</text>
<text x="718.7" y="919">ω-Hydroxy fatty acid</text>
<text x="716.7" y="950.5">α-Hydroxy fatty acid</text>
<text x="16" y="1015.7">00071 9/9/22</text>
<text x="16" y="1026.7">(c) Kanehisa Laboratories</text>
</g>
</svg>
</body>
</html>
